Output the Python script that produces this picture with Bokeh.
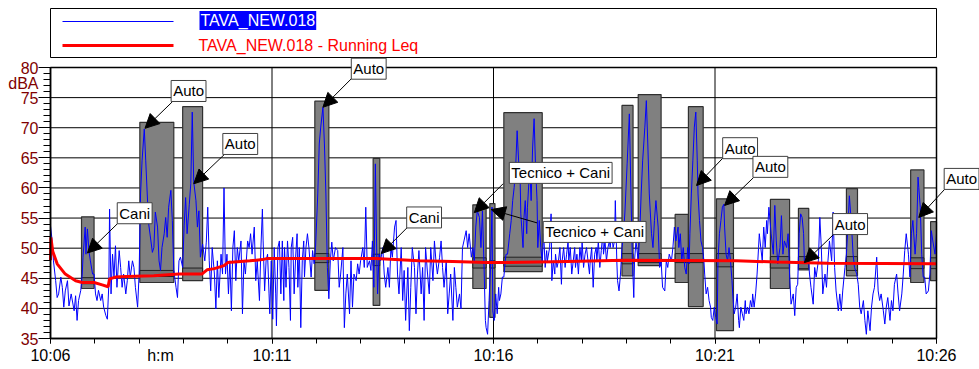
from bokeh.plotting import figure
from bokeh.models import (Range1d, FixedTicker, Label, Arrow, NormalHead, ColumnDataSource,
                          LinearAxis)
from bokeh.embed import file_html
from bokeh.resources import INLINE

# ---- data: sound level (dBA) vs seconds after 10:06:00 ----
seg_1 = [(0,53.7),(2,51.5),(4,47.9),(7,44.6),(9,41.8),(11,42.4),(14,45.2),(16,43.5),(18,40.2),(20,42.9),(23,44.6),(25,40.4),(28,42.4),(32,39.6),(34,42.1),(36,38.0),(38,41.3),(41,43.0),(43,45.7),(44,48.5),(47,53.5),(48,49.0),(50,53.2),(52,49.6),(54,47.9),(57,45.7),(59,45.7),(61,42.4),(63,41.3),(65,43.0),(68,41.3),(70,42.4),(72,40.2),(75,38.8),(77,38.2),(79,44.0),(80,56.5),(82,42.4),(84,49.0),(86,45.2),(88,50.4),(90,43.5),(93,49.6),(95,46.8),(97,43.5),(99,45.7),(102,42.4),(104,44.6),(106,47.9),(108,45.2),(111,47.9),(113,46.8),(115,43.5),(118,40.2),(120,45.7),(122,59.0),(124,64.5),(127,69.8),(129,64.5),(131,59.0),(133,54.0),(136,51.2),(138,49.3),(140,50.1),(142,56.0),(145,53.5),(147,47.9),(149,46.3),(151,50.1),(154,52.4),(156,55.1),(158,51.8),(160,56.8),(163,59.6),(165,54.6),(167,46.3),(170,43.5),(172,41.8),(174,47.9),(176,48.5),(179,46.8),(181,53.7),(183,58.4),(185,52.4),(188,57.3),(190,60.7),(192,72.6),(194,61.0),(197,57.9),(199,53.5),(201,56.2),(203,48.5),(206,50.7)]
seg_2 = [(209,47.9),(211,51.0),(213,56.8),(215,47.9),(217,42.9),(219,50.1),(222,45.7),(224,39.9),(226,47.9),(228,41.8),(231,49.0),(233,45.7),(235,60.0),(237,45.7),(239,49.0),(241,42.4),(243,47.9),(245,39.6),(247,50.1),(249,52.9),(251,44.6),(253,50.1),(255,47.9),(258,51.2),(260,39.1),(262,47.9),(264,45.7),(267,51.2),(269,50.1),(271,52.4),(273,49.0),(276,53.5),(278,44.6),(280,47.9),(283,41.3),(285,50.1),(287,56.5),(288,51.2),(290,42.9),(292,47.9),(294,49.0),(296,42.4),(297,39.1),(299,47.9),(301,38.2),(303,50.1),(305,42.4),(306,37.1),(308,50.1),(310,51.2),(312,42.4),(314,51.2),(316,41.3),(317,50.1),(319,43.5),(321,51.2),(323,46.8),(325,38.0),(326,50.1),(328,51.8),(330,42.4),(332,48.5),(334,52.4),(335,43.5),(337,50.1),(339,36.8),(341,47.9),(343,51.2),(344,45.2),(346,50.1),(348,52.4),(350,50.1),(353,45.2),(355,49.6),(357,47.4),(359,50.1),(362,59.0),(364,67.3),(366,70.1),(369,73.4),(371,67.3),(373,59.0),(375,46.8),(377,41.6),(379,47.9),(381,51.0),(383,47.9)]
seg_3 = [(386,50.1),(389,49.6),(391,43.5),(393,45.7),(396,50.1),(398,36.8),(400,42.4),(402,45.7),(405,39.1),(407,47.9),(409,40.2),(411,45.7),(414,44.6),(416,47.4),(418,45.7),(420,47.9),(423,50.1),(425,46.8),(427,56.8),(429,46.8),(432,47.9),(434,46.3),(436,51.2),(438,43.5),(440,64.0),(442,47.9),(443,42.4),(445,49.0),(447,47.9),(450,50.1),(452,45.7),(454,43.5),(457,46.8),(459,43.5),(461,50.1),(463,48.5),(466,53.5),(468,54.6),(470,45.7),(472,42.4),(475,50.1),(477,41.3),(479,46.3),(481,38.0),(484,46.8),(486,36.3),(488,43.5),(490,50.1),(493,46.8),(495,39.1),(497,45.7),(499,49.6),(502,42.4),(504,46.8),(506,38.0),(508,50.1),(511,45.2),(513,42.4),(515,50.1),(518,44.6),(520,51.2),(522,47.9),(524,45.7),(527,48.5),(529,51.2),(531,46.8),(533,43.5),(536,47.9),(538,39.1),(540,42.4),(542,45.7),(545,38.0),(547,46.8),(549,43.5),(551,40.2),(554,42.4),(556,39.9),(558,50.1),(560,51.2),(563,52.9),(565,50.1),(567,52.4),(570,48.5),(572,50.1),(574,47.9),(576,53.5),(578,56.2),(581,55.1)]
seg_4 = [(583,50.1),(585,56.2),(587,47.9),(589,38.0),(590,36.8),(592,35.7),(594,41.3),(596,46.8),(598,56.8),(599,39.6),(601,38.0),(603,42.4),(605,39.1),(607,43.5),(608,41.3),(610,42.4),(612,45.2),(614,45.2),(616,47.9),(617,49.0),(619,49.0),(622,52.4),(624,54.6),(626,57.9),(628,60.1),(630,63.4),(632,69.5),(634,64.5),(636,61.8),(637,55.7),(640,50.1),(641,54.6),(643,57.9),(645,52.4),(646,56.8),(649,63.4),(651,57.9),(653,66.8),(655,71.5),(657,63.4),(659,57.9),(660,50.1),(662,54.6),(664,50.1),(666,47.9),(668,52.4),(670,46.8),(672,49.6),(673,47.9),(676,50.1),(678,55.7),(679,44.6),(681,47.9),(683,45.7),(684,49.0),(686,46.8),(688,47.9),(690,50.1),(692,44.0),(693,47.9),(695,50.1),(697,46.8),(699,49.0),(701,51.2),(702,47.9),(704,50.1),(706,45.7),(708,47.9),(710,50.1),(711,46.8),(713,49.0),(715,45.7),(717,50.1),(719,47.9),(720,51.2),(722,46.8),(724,49.0),(726,50.1),(728,47.9),(730,45.7),(731,47.9),(733,50.1),(735,43.5),(737,49.0),(739,50.1),(740,47.9),(742,51.2),(744,46.8),(746,49.6),(748,52.4),(749,49.0),(751,51.2),(753,47.9),(755,50.1),(757,51.2),(758,50.1),(760,52.4),(762,50.1),(764,51.2),(765,57.9),(767,47.9),(768,44.6),(770,42.9),(772,45.7),(774,50.1),(776,52.0),(778,56.0),(781,64.0),(784,72.3),(786,60.0),(788,48.5),(790,41.8)]
seg_5 = [(791,47.9),(793,51.2),(796,47.9),(798,52.4),(800,59.0),(802,64.5),(805,70.1),(807,74.5),(809,67.3),(811,59.0),(814,52.4),(816,50.1),(818,54.6),(820,57.9),(823,53.5),(825,46.8),(827,47.9),(829,43.5),(832,42.9),(834,47.9),(836,46.8),(838,49.0),(841,47.9),(843,50.1),(845,53.5),(847,51.2),(850,53.5),(851,50.1),(853,52.4),(855,47.9),(857,50.1),(859,46.8),(861,45.7),(863,50.1),(865,47.4),(866,52.4),(868,59.0),(870,64.5),(872,70.1),(874,72.6),(876,64.5),(877,59.0),(879,54.6),(881,51.2),(883,50.1),(885,47.9),(886,45.7),(888,42.4),(890,43.5),(892,41.3),(894,40.2),(895,38.5),(897,38.0),(899,40.2),(901,38.5),(903,37.4),(904,47.9),(906,52.4),(908,54.6),(910,56.8),(912,57.3),(913,53.5),(915,49.0),(917,47.9),(919,50.1),(921,47.9),(923,44.6),(924,42.4),(926,39.1),(928,40.2),(930,42.4),(932,38.0),(933,36.8),(935,40.2),(937,39.1),(939,38.0),(941,41.3),(942,39.1),(944,40.2),(946,39.1),(948,41.3),(950,40.2),(951,42.4),(953,40.2),(955,42.4),(957,45.7),(959,50.1),(960,52.4),(962,50.1),(964,47.9),(966,53.5),(968,50.1),(970,54.6),(971,52.4),(973,56.8)]
seg_6 = [(976,52.4),(979,49.0),(981,57.1),(983,51.2),(985,47.4),(988,50.1),(990,55.4),(992,49.0),(994,51.2),(997,50.1),(999,52.4),(1001,45.7),(1003,40.7),(1006,42.4),(1008,38.8),(1010,43.5),(1012,44.0),(1014,52.4),(1016,55.7),(1018,55.1),(1020,52.4),(1021,47.9),(1024,47.4),(1026,49.0),(1028,45.7),(1030,43.5),(1033,40.7),(1035,46.8),(1037,45.2),(1040,47.9),(1042,55.1),(1044,50.1),(1046,42.4),(1049,45.7),(1051,43.5),(1053,47.9),(1055,51.2),(1058,47.9),(1060,56.0),(1062,46.8),(1064,42.9),(1067,39.6),(1069,42.4),(1071,39.6),(1073,42.9),(1076,46.8),(1078,49.0),(1080,53.5),(1082,58.7),(1085,53.5),(1087,49.0),(1089,46.8),(1092,45.7),(1094,44.0),(1096,40.2),(1098,39.1),(1101,41.3),(1103,38.0),(1105,35.7),(1107,39.6),(1110,36.3),(1112,40.2),(1114,42.4),(1116,43.5),(1119,48.5),(1121,42.9),(1123,41.3),(1125,42.4),(1128,39.6),(1130,37.4),(1132,40.2),(1134,41.8),(1137,38.0),(1139,41.3),(1141,39.6),(1143,44.0),(1146,45.7),(1148,42.4),(1150,39.6),(1153,42.4),(1155,45.7),(1157,49.6),(1159,52.4),(1162,49.0),(1164,45.2),(1166,52.4),(1168,54.6),(1171,49.0),(1173,52.4),(1175,61.8),(1176,60.1),(1178,56.8),(1180,49.0),(1182,45.2),(1184,45.2),(1186,42.4),(1189,42.9),(1191,45.7),(1193,52.9),(1195,51.2),(1198,49.0),(1200,52.4)]

# running Leq
leq_t = [0,0.5,3,9,20,34,43,59,70,78,80,88,102,140,174,205,212,222,235,240,270,287,294,441,499,545,590,619,700,777,929,983,1053,1200]
leq_db = [48.0,51.8,49.5,47.4,45.7,44.6,44.3,44.3,43.9,43.6,44.9,45.2,45.3,45.4,45.7,45.7,46.4,46.6,47.1,47.6,47.9,48.1,48.3,48.3,47.9,47.8,47.6,47.6,47.8,48.0,47.9,47.7,47.5,47.4]

# marked events (seconds, dBA)
ev_start = [42,121,179,358,437,572,595,614,774,796,846,864,902,975,1013,1078,1165,1192]
ev_end   = [59,167,206,377,446,590,602,666,789,827,864,884,925,1001,1027,1093,1183,1200]
ev_max   = [55.2,70.9,73.5,74.4,64.9,57.2,57.4,72.5,73.7,75.5,55.6,73.5,58.2,58.1,56.6,59.9,63.0,54.4]
ev_min   = [43.3,44.3,44.6,43.0,40.5,43.3,38.5,46.1,45.4,47.1,44.3,40.3,36.3,43.3,46.4,45.4,44.3,44.6]
ev_leq_hi = [45.1,46.3,46.7,49.1,49.0,48.4,47.9,48.5,49.1,49.1,49.1,49.1,49.1,48.6,48.6,48.6,48.4,48.4]
ev_leq_lo = [44.1,45.3,45.7,47.6,47.1,46.7,46.7,47.0,47.4,47.6,47.6,47.6,46.9,46.7,46.6,46.3,46.6,46.6]

# callouts
call_text = ["Cani","Auto","Auto","Auto","Cani","Tecnico + Cani","Tecnico + Cani","Auto","Auto","Auto","Auto"]
call_x  = [114,187,257,431,506,691,737,934,975,1083,1234]
call_y  = [55.8,76.1,67.3,79.8,55.1,62.5,52.7,66.6,63.5,54.0,61.5]
call_fx = [91,165,235,408,483,613,659,911,952,1060,1212]
call_fy = [54.1,74.3,65.5,78.2,53.4,60.7,54.2,65.0,61.7,52.2,59.9]
call_tx = [50,128,194,369,448,574,597,875,913,1021,1176]
call_ty = [49.2,69.9,60.7,73.4,49.1,55.9,56.4,60.4,57.1,47.6,55.1]

x_ticks = [0,300,600,900,1200]
x_tick_labels = ["10:06","10:11","10:16","10:21","10:26"]
y_ticks = [35,40,45,50,55,60,65,70,75,80]

series_name = "TAVA_NEW.018"
leq_name = "TAVA_NEW.018 - Running Leq"

FONT = "Liberation Sans"
MAROON = "#800000"

pairs = seg_1 + seg_2 + seg_3 + seg_4 + seg_5 + seg_6
lvl_t = [a for a, b in pairs]
lvl_db = [b for a, b in pairs]

x0, x1 = x_ticks[0], x_ticks[-1]
y0, y1 = y_ticks[0], y_ticks[-1]

# frame covers the whole canvas; plot box 50..936 px x 67..338 px
SPX = (x1 - x0) / 886.0
DPX = (y1 - y0) / 271.0
p = figure(width=979, height=369,
           x_range=Range1d(x0 - 50 * SPX, x1 + 43 * SPX),
           y_range=Range1d(y0 - 31 * DPX, y1 + 67 * DPX),
           output_backend="svg", toolbar_location=None,
           x_axis_location=None, y_axis_location=None,
           min_border=0)
p.background_fill_color = "white"
p.border_fill_color = "white"
p.outline_line_color = None
p.grid.visible = False

# grid lines inside the plot box
p.segment(x0=[x0] * (len(y_ticks) - 2), x1=[x1] * (len(y_ticks) - 2),
          y0=y_ticks[1:-1], y1=y_ticks[1:-1], line_color="black", line_width=1)
p.segment(x0=x_ticks[1:-1], x1=x_ticks[1:-1], y0=[y0] * (len(x_ticks) - 2),
          y1=[y1] * (len(x_ticks) - 2), line_color="black", line_width=1)

# event boxes
ev_src = ColumnDataSource(dict(l=ev_start, r=ev_end, t=ev_max, b=ev_min, bh=ev_leq_hi, bl=ev_leq_lo))
p.quad(left="l", right="r", top="t", bottom="b", source=ev_src,
       fill_color="#808080", line_color="#303030", line_width=1.2)
p.quad(left="l", right="r", top="bh", bottom="bl", source=ev_src,
       fill_color="#707070", line_color="#202020", line_width=1)

# series
p.line(lvl_t, lvl_db, line_color="#0000ff", line_width=1)
p.line(leq_t, leq_db, line_color="#ff0000", line_width=3)

# plot box outline
p.quad(left=[x0], right=[x1], bottom=[y0], top=[y1], fill_color=None,
       line_color="black", line_width=1.5)

# axes at fixed locations
xaxis = LinearAxis(fixed_location=y0, bounds=(x0, x1),
                   ticker=FixedTicker(ticks=x_ticks, minor_ticks=list(range(x0, x1 + 1, 60))),
                   major_label_overrides={t: l for t, l in zip(x_ticks, x_tick_labels)})
yaxis = LinearAxis(fixed_location=x0, bounds=(y0, y1),
                   ticker=FixedTicker(ticks=y_ticks, minor_ticks=list(range(y0, y1 + 1))))
for ax in (xaxis, yaxis):
    ax.axis_line_color = "black"
    ax.axis_line_width = 1.5
    ax.major_tick_line_color = "black"
    ax.minor_tick_line_color = "black"
    ax.major_tick_in = 0
    ax.minor_tick_in = 0
    ax.major_label_text_font = FONT
    ax.major_label_text_font_size = "16px"
    ax.major_label_standoff = 0
xaxis.major_tick_out = 5
xaxis.minor_tick_out = 5
xaxis.major_label_standoff = 3
xaxis.major_label_text_color = "black"
yaxis.major_tick_out = 12
yaxis.minor_tick_out = 7
yaxis.major_label_text_color = MAROON
p.add_layout(xaxis, "below")
p.add_layout(yaxis, "left")

# callouts
for txt, x, y, fx, fy, tx, ty in zip(call_text, call_x, call_y, call_fx, call_fy, call_tx, call_ty):
    p.add_layout(Arrow(end=NormalHead(size=14, fill_color="black", line_color="black"),
                       x_start=fx, y_start=fy, x_end=tx, y_end=ty,
                       line_color="black", line_width=1))
    p.add_layout(Label(x=x, y=y, text=txt, text_align="center", text_baseline="middle",
                       text_font=FONT, text_font_size="15px", text_color="black",
                       background_fill_color="white", border_line_color="#404040",
                       border_line_width=1, padding=2))

# axis extra labels
p.add_layout(Label(x=149, y=y0 - 17 * DPX, text="h:m", text_align="center", text_baseline="middle",
                   text_font=FONT, text_font_size="16px", text_color="black"))
p.add_layout(Label(x=x0 - 12 * SPX, y=y1 - 16 * DPX, text="dBA", text_align="right",
                   text_baseline="middle", text_font=FONT, text_font_size="16px",
                   text_color=MAROON))

# legend box above the plot
leg_top = y1 + 59 * DPX
leg_bot = y1 + 10 * DPX
p.quad(left=[x0], right=[x1], bottom=[leg_bot], top=[leg_top], fill_color="white",
       line_color="black", line_width=1)
p.line([x0 + 12 * SPX, x0 + 123 * SPX], [y1 + 46 * DPX] * 2, line_color="#0000ff", line_width=1)
p.line([x0 + 12 * SPX, x0 + 123 * SPX], [y1 + 22 * DPX] * 2, line_color="#ff0000", line_width=3)
p.add_layout(Label(x=x0 + 149 * SPX, y=y1 + 47 * DPX, text=series_name, text_align="left",
                   text_baseline="middle", text_font=FONT, text_font_size="16px",
                   text_color="white", background_fill_color="#0000ff", padding=1))
p.add_layout(Label(x=x0 + 148 * SPX, y=y1 + 22 * DPX, text=leq_name, text_align="left",
                   text_baseline="middle", text_font=FONT, text_font_size="16px",
                   text_color="#ff0000"))

open("out.html", "w").write(file_html(p, INLINE))
